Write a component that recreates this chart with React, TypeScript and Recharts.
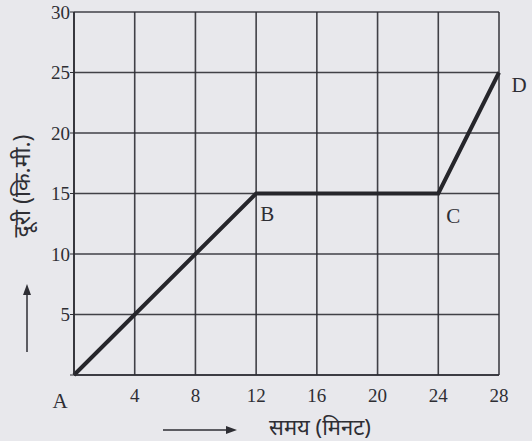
import { CartesianGrid, LabelList, Line, LineChart, XAxis, YAxis } from "recharts";

// time (minutes) vs distance (km)
const times = [0, 12, 24, 28];
const distances = [0, 15, 15, 25];
const pointNames = ["A", "B", "C", "D"];
const xTicks = [0, 4, 8, 12, 16, 20, 24, 28];
const yTicks = [0, 5, 10, 15, 20, 25, 30];

const data = times.map((t, i) => ({ t, d: distances[i], name: pointNames[i] }));

const ink = "#2e2e34";
const serif = "'Liberation Serif', 'DejaVu Serif', serif";

// label offsets per point, relative to the point
const offsets: Record<string, [number, number]> = {
  A: [-14, 33],
  B: [11, 27],
  C: [15, 29],
  D: [20, 19],
};

function PointLabel(props: any) {
  const { x, y, value } = props;
  const [dx, dy] = offsets[value] || [0, 0];
  return (
    <text x={x + dx} y={y + dy} textAnchor="middle" fontSize={21} fontFamily={serif} fill={ink}>
      {value}
    </text>
  );
}

export default function App() {
  return (
    <div style={{ position: "relative", width: 532, height: 441, background: "#e8e8ec" }}>
      <style>{`body{margin:0}`}</style>
      <LineChart
        width={532}
        height={441}
        data={data}
        margin={{ top: 12, right: 33, bottom: 36, left: 0 }}
      >
        <CartesianGrid stroke={ink} strokeWidth={1.6} strokeOpacity={0.9} />
        <XAxis
          dataKey="t"
          type="number"
          domain={[0, 28]}
          ticks={xTicks}
          tickFormatter={(v) => (v === 0 ? "" : String(v))}
          axisLine={{ stroke: ink, strokeWidth: 1.6 }}
          tickLine={false}
          tick={{ fill: ink, fontSize: 19, fontFamily: serif }}
          tickMargin={8}
          height={30}
        />
        <YAxis
          type="number"
          domain={[0, 30]}
          ticks={yTicks}
          tickFormatter={(v) => (v === 0 ? "" : String(v))}
          axisLine={{ stroke: ink, strokeWidth: 1.6 }}
          tickLine={{ stroke: ink }}
          tickSize={4}
          tick={{ fill: ink, fontSize: 19, fontFamily: serif }}
          tickMargin={0}
          width={74}
        />
        <Line
          type="linear"
          dataKey="d"
          stroke="#26262b"
          strokeWidth={4}
          dot={false}
          isAnimationActive={false}
        >
          <LabelList dataKey="name" content={PointLabel} />
        </Line>
      </LineChart>
      <svg
        width={532}
        height={441}
        style={{ position: "absolute", left: 0, top: 0, pointerEvents: "none" }}
      >
        <text
          transform="translate(30 186) rotate(-90)"
          textAnchor="middle"
          fontSize={23}
          fontFamily="'Noto Sans', sans-serif"
          fill={ink}
        >
          दूरी (कि.मी.)
        </text>
        <line x1={27} y1={352} x2={27} y2={292} stroke={ink} strokeWidth={1.5} />
        <path d="M27 284 L23 295 L31 295 Z" fill={ink} />
        <text
          x={320}
          y={435}
          textAnchor="middle"
          fontSize={22}
          fontFamily="'Noto Sans', sans-serif"
          fill={ink}
        >
          समय (मिनट)
        </text>
        <line x1={163} y1={430} x2={228} y2={430} stroke={ink} strokeWidth={1.5} />
        <path d="M237 430 L226 426 L226 434 Z" fill={ink} />
      </svg>
    </div>
  );
}
